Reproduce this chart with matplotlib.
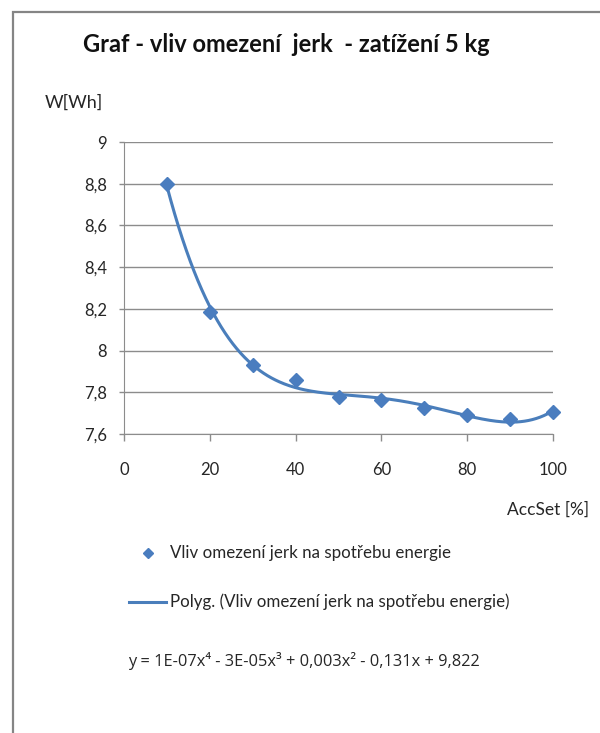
import numpy as np
import matplotlib.pyplot as plt
from matplotlib.patches import Rectangle

plt.rcParams['font.family'] = ['Lato', 'DejaVu Sans']

# data
acc = [10, 20, 30, 40, 50, 60, 70, 80, 90, 100]
energy = [8.80, 8.183, 7.932, 7.860, 7.776, 7.765, 7.725, 7.690, 7.672, 7.704]
xticks = [0, 20, 40, 60, 80, 100]
yticks = [7.6, 7.8, 8.0, 8.2, 8.4, 8.6, 8.8, 9.0]

title = 'Graf - vliv omezení  jerk  - zatížení 5 kg'
series_name = 'Vliv omezení jerk na spotřebu energie'
trend_name = 'Polyg. (Vliv omezení jerk na spotřebu energie)'
equation = 'y = 1E-07x⁴ - 3E-05x³ + 0,003x² - 0,131x + 9,822'

blue = '#4A7EBB'
grid = '#8C8C8C'
txt = '#262626'

W, H = 600, 733
fig = plt.figure(figsize=(6, 7.33), dpi=100)

# outer chart frame (runs off the right/bottom edge like the screenshot)
fig.patches.append(Rectangle((13 / W, -0.1), 1.2, 1 - 12 / H + 0.1,
                             transform=fig.transFigure, fill=False,
                             edgecolor='#858585', linewidth=1.6))

ax = fig.add_axes([124 / W, (H - 434) / H, (553 - 124) / W, (434 - 142) / H])

# 4th order polynomial trendline like Excel
coef = np.polyfit(acc, energy, 4)
xs = np.linspace(acc[0], acc[-1], 300)
ax.plot(xs, np.polyval(coef, xs), color=blue, linewidth=2.2, zorder=2,
        clip_on=False)
ax.plot(acc, energy, linestyle='none', marker='D', markersize=7,
        color='#4A7DBF', zorder=3, clip_on=False)

ax.set_xlim(0, 100)
ax.set_ylim(7.6, 9.0)
ax.set_xticks(xticks)
ax.set_yticks(yticks)
ax.set_xticklabels([str(v) for v in xticks])
ax.set_yticklabels([('%g' % v).replace('.', ',') for v in yticks])
ax.yaxis.grid(True, color=grid, linewidth=1)
ax.set_axisbelow(True)
for s in ['top', 'right']:
    ax.spines[s].set_visible(False)
for s in ['left', 'bottom']:
    ax.spines[s].set_color(grid)
ax.tick_params(axis='both', colors=grid, labelcolor=txt, labelsize=12, width=1)
ax.tick_params(axis='y', length=3.6, pad=8.5)
ax.tick_params(axis='x', length=5, pad=15)

fig.text(286 / W, 1 - 45 / H, title, fontsize=17, fontweight='bold',
         ha='center', va='center', color='#111111')
fig.text(45 / W, 1 - 103 / H, 'W[Wh]', fontsize=13, ha='left', va='center',
         color=txt)
fig.text(589 / W, 1 - 510 / H, 'AccSet [%]', fontsize=12.5, ha='right',
         va='center', color=txt)

# legend drawn by hand to match the layout
fig.lines.append(plt.Line2D([148 / W], [1 - 553 / H], marker='D', markersize=5.5,
                            color='#4A7DBF', transform=fig.transFigure))
fig.text(170 / W, 1 - 553 / H, series_name, fontsize=12.2, ha='left',
         va='center', color=txt)
fig.lines.append(plt.Line2D([129 / W, 166 / W], [1 - 602 / H, 1 - 602 / H],
                            color=blue, linewidth=2.2, transform=fig.transFigure))
fig.text(170 / W, 1 - 602 / H, trend_name, fontsize=12.2, ha='left',
         va='center', color=txt)
fig.text(128 / W, 1 - 661 / H, equation, fontsize=11.8, ha='left',
         va='center', color=txt, family=['Open Sans', 'DejaVu Sans'])

fig.savefig('out.png', dpi=100)
